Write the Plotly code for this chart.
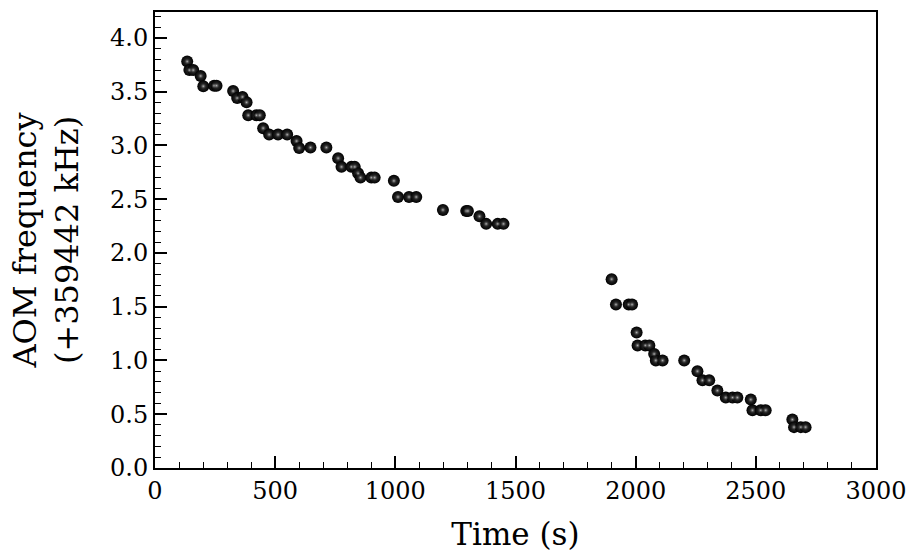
import plotly.graph_objects as go

time_s = [134, 143, 159, 190, 201, 246, 256, 325, 342, 364, 381, 388, 422, 436,
          450, 475, 512, 550, 589, 600, 647, 713, 762, 776, 817, 831, 845, 855,
          900, 914, 994, 1011, 1057, 1087, 1198, 1295, 1302, 1350, 1378, 1426, 1450,
          1900, 1918, 1971, 1985, 2004, 2008, 2040, 2057, 2077, 2084, 2112, 2202, 2257,
          2278, 2306, 2340, 2375, 2403, 2423, 2479, 2486, 2520, 2541, 2652, 2659, 2687, 2707]
freq_khz = [3.78, 3.70, 3.70, 3.645, 3.55, 3.555, 3.555, 3.505, 3.44, 3.45, 3.40, 3.28, 3.28, 3.28,
            3.16, 3.10, 3.10, 3.10, 3.04, 2.975, 2.98, 2.98, 2.88, 2.80, 2.80, 2.80, 2.74, 2.70,
            2.70, 2.70, 2.67, 2.52, 2.52, 2.52, 2.40, 2.39, 2.39, 2.34, 2.27, 2.27, 2.27,
            1.756, 1.52, 1.52, 1.52, 1.26, 1.14, 1.14, 1.14, 1.06, 1.0, 1.0, 1.0, 0.90,
            0.815, 0.815, 0.72, 0.655, 0.655, 0.655, 0.636, 0.537, 0.537, 0.537, 0.45, 0.38, 0.38, 0.38]

FONT = "DejaVu Serif"

fig = go.Figure()
fig.add_trace(go.Scatter(
    x=time_s, y=freq_khz, mode="markers",
    marker=dict(size=12, color="#000000",
                gradient=dict(type="radial", color="#3a3a3a"),
                line=dict(width=0)),
    showlegend=False, hoverinfo="x+y",
))
fig.add_trace(go.Scatter(
    x=time_s, y=freq_khz, mode="markers",
    marker=dict(size=6, color="rgba(40,40,40,0)",
                gradient=dict(type="radial", color="#b8b8b8"),
                line=dict(width=0)),
    showlegend=False, hoverinfo="skip",
))

axis_common = dict(
    showgrid=False, zeroline=False, showline=True, linecolor="black", linewidth=2,
    mirror=True, ticks="inside", ticklen=12, tickwidth=1.5, tickcolor="black",
    tickfont=dict(family=FONT, size=24, color="black"),
)

fig.update_xaxes(
    range=[0, 3000], dtick=500, tick0=0,
    minor=dict(ticks="inside", ticklen=6, tickwidth=1.2, tickcolor="black", dtick=100),
    title=dict(text="Time (s)", font=dict(family=FONT, size=31, color="black"), standoff=20),
    **axis_common,
)
fig.update_yaxes(
    range=[0, 4.24], dtick=0.5, tick0=0, tickformat=".1f",
    minor=dict(ticks="inside", ticklen=6, tickwidth=1.2, tickcolor="black", dtick=0.1),
    title=dict(text="AOM frequency<br>(+359442 kHz)", font=dict(family=FONT, size=32, color="black"), standoff=22),
    **axis_common,
)

fig.update_layout(
    width=917, height=559,
    margin=dict(l=155, r=40, t=10, b=91),
    paper_bgcolor="white", plot_bgcolor="white",
    font=dict(family=FONT, color="black"),
)

fig.write_html("out.html")
